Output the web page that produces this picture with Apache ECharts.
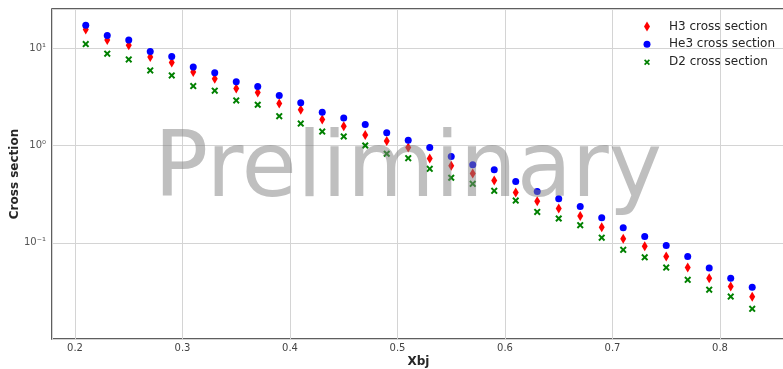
<!DOCTYPE html>
<html>
<head>
<meta charset="utf-8">
<script src="https://cdn.jsdelivr.net/npm/echarts@6/dist/echarts.min.js"></script>
<style>
  html, body { margin: 0; padding: 0; background: #ffffff; }
  #chart { width: 783px; height: 369px; }
</style>
</head>
<body>
<div id="chart"></div>
<script>
// Bjorken x values
const xbj = [0.21, 0.23, 0.25, 0.27, 0.29, 0.31, 0.33, 0.35, 0.37, 0.39, 0.41,
             0.43, 0.45, 0.47, 0.49, 0.51, 0.53, 0.55, 0.57, 0.59, 0.61, 0.63,
             0.65, 0.67, 0.69, 0.71, 0.73, 0.75, 0.77, 0.79, 0.81, 0.83];

const h3 = [15.5, 12.1, 10.7, 8.08, 7.13, 5.67, 4.85, 3.85, 3.50, 2.70, 2.33,
            1.85, 1.58, 1.28, 1.11, 0.954, 0.735, 0.618, 0.515, 0.437, 0.329, 0.268,
            0.225, 0.189, 0.145, 0.110, 0.0923, 0.0723, 0.0557, 0.0433, 0.0356, 0.0279];

const he3 = [17.2, 13.5, 12.1, 9.25, 8.22, 6.38, 5.59, 4.52, 4.04, 3.26, 2.75,
             2.20, 1.91, 1.64, 1.35, 1.13, 0.954, 0.771, 0.633, 0.563, 0.427, 0.337,
             0.283, 0.236, 0.181, 0.143, 0.116, 0.0938, 0.0723, 0.0553, 0.0433, 0.0350];

const d2 = [11.0, 8.76, 7.65, 5.90, 5.24, 4.07, 3.65, 2.90, 2.62, 2.00, 1.68,
            1.39, 1.24, 1.00, 0.822, 0.740, 0.576, 0.466, 0.404, 0.342, 0.272, 0.208,
            0.178, 0.152, 0.113, 0.0848, 0.0711, 0.0557, 0.0417, 0.0331, 0.0281, 0.0210];

const seriesNames = ['H3 cross section', 'He3 cross section', 'D2 cross section'];
const xTitle = 'Xbj';
const yTitle = 'Cross section';
const watermark = 'Preliminary';

const FONT = 'DejaVu Sans';
const diamondPath = 'path://M3,0 L6,5 L3,10 L0,5 Z';
const circlePath = 'path://M5,0 A5,5 0 1 1 5,10 A5,5 0 1 1 5,0 Z';
const crossPath = 'path://M0,2 L2,0 L5,3 L8,0 L10,2 L7,5 L10,8 L8,10 L5,7 L2,10 L0,8 L3,5 Z';

function pairs(ys) { return xbj.map((x, i) => [x, ys[i]]); }

const supMap = {'-': '\u207B', '0': '\u2070', '1': '\u00B9', '2': '\u00B2', '3': '\u00B3',
                '4': '\u2074', '5': '\u2075', '6': '\u2076', '7': '\u2077', '8': '\u2078', '9': '\u2079'};
function logLabel(v) {
  const l = Math.log10(v);
  const e = Math.round(l);
  if (Math.abs(l - e) > 1e-6) return '';
  return '10' + String(e).split('').map(c => supMap[c]).join('');
}

// iconW: drawn width of the icon; legend bounding box starts at the icon's left edge
function legendFor(name, icon, iconW, h, centerY) {
  return {
    show: true,
    orient: 'vertical',
    left: 647 - iconW / 2,
    top: centerY - 6,
    padding: 0,
    itemWidth: 34,
    itemHeight: h,
    symbolKeepAspect: true,
    data: [{ name: name, icon: icon }],
    textStyle: { fontFamily: FONT, fontSize: 12, color: '#262626' }
  };
}

const chart = echarts.init(document.getElementById('chart'), null, { renderer: 'canvas' });
chart.setOption({
  animation: false,
  backgroundColor: '#ffffff',
  grid: {
    left: 52, top: 9, right: -2, bottom: 30,
    outerBoundsMode: 'none',
    containLabel: false,
    show: true, borderColor: '#2b2b2b', borderWidth: 1.5, backgroundColor: 'transparent'
  },
  legend: [
    legendFor(seriesNames[0], diamondPath, 6, 10, 26.5),
    legendFor(seriesNames[1], circlePath, 7, 7, 44.3),
    legendFor(seriesNames[2], crossPath, 6, 6, 62.3)
  ],
  xAxis: {
    type: 'value',
    min: 0.1786, max: 0.8605,
    splitNumber: 7,
    name: xTitle,
    nameLocation: 'middle',
    nameGap: 17,
    nameMoveOverlap: false,
    nameTextStyle: { fontFamily: FONT, fontSize: 12, fontWeight: 'bold', color: '#262626' },
    axisLine: { show: false },
    axisTick: { show: false },
    axisLabel: {
      showMinLabel: false, showMaxLabel: false,
      fontFamily: FONT, fontSize: 10, color: '#444444', margin: 4,
      formatter: v => (Math.abs(v * 10 - Math.round(v * 10)) < 1e-6) ? v.toFixed(1) : ''
    },
    splitLine: { show: true, lineStyle: { color: '#d4d4d4', width: 1 } }
  },
  yAxis: {
    type: 'log',
    logBase: 10,
    min: 0.0103, max: 25.2,
    name: yTitle,
    nameLocation: 'middle',
    nameGap: 31,
    nameMoveOverlap: false,
    nameTextStyle: { fontFamily: FONT, fontSize: 12, fontWeight: 'bold', color: '#262626' },
    axisLine: { show: false },
    axisTick: { show: false },
    axisLabel: {
      fontFamily: FONT, fontSize: 10, color: '#555555', margin: 6,
      formatter: logLabel
    },
    splitLine: { show: true, lineStyle: { color: '#d4d4d4', width: 1 } },
    minorTick: { show: false },
    minorSplitLine: { show: false }
  },
  series: [
    {
      name: seriesNames[0], type: 'scatter', data: pairs(h3),
      symbol: 'diamond', symbolSize: [6, 10],
      itemStyle: { color: '#ff0000', opacity: 1 }, z: 3
    },
    {
      name: seriesNames[1], type: 'scatter', data: pairs(he3),
      symbol: 'circle', symbolSize: 7,
      itemStyle: { color: '#0000ff', opacity: 1 }, z: 4
    },
    {
      name: seriesNames[2], type: 'scatter', data: pairs(d2),
      symbol: crossPath, symbolSize: 7,
      itemStyle: { color: '#008000', opacity: 1 }, z: 5
    }
  ],
  graphic: [{
    type: 'text',
    x: 408, y: 173,
    z: 100,
    silent: true,
    style: {
      text: watermark,
      font: '90px "DejaVu Sans"',
      fill: 'rgba(128,128,128,0.5)',
      align: 'center',
      verticalAlign: 'middle'
    }
  }]
});
</script>
</body>
</html>
